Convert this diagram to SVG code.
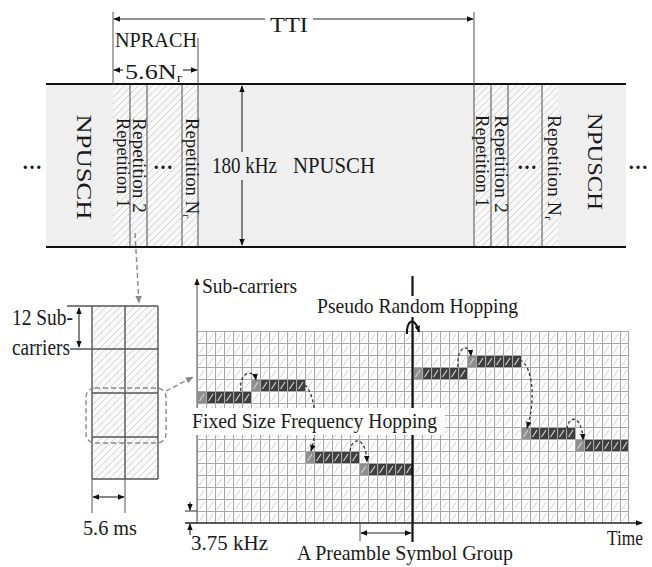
<svg xmlns="http://www.w3.org/2000/svg" width="652" height="567" viewBox="0 0 652 567">
<defs>
<style>
text{font-family:"Liberation Serif","Times New Roman",serif;fill:#1a1a1a}
.bar{stroke:#111;stroke-width:2.2}
.div{stroke:#6a6a6a;stroke-width:1.2}
.ext{stroke:#555;stroke-width:1;fill:none}
.dim{stroke:#222;stroke-width:1.1;fill:none}
.dash{stroke:#333;stroke-width:1.3;stroke-dasharray:3 2.5;fill:none}
.gdash{stroke:#8a8a8a;stroke-width:1.4;stroke-dasharray:5 3;fill:none}
.blk{stroke:#555;stroke-width:1.4}
.rep{font-size:18px}
.dots{font-size:20px;font-weight:bold}
</style>
<pattern id="hatch" patternUnits="userSpaceOnUse" width="7" height="7">
<path d="M-1,8 L8,-1 M-1,1 L1,-1 M6,8 L8,6" stroke="#d2d2d2" stroke-width="1"/>
</pattern>
<pattern id="cell" patternUnits="userSpaceOnUse" x="197" y="331" width="9" height="12">
<path d="M0,0.5 H9 M0.5,0 V12" stroke="#a8a8a8" stroke-width="1.2"/>
<path d="M2.5,10 L7,3" stroke="#d6d6d6" stroke-width="1.1"/>
</pattern>
<marker id="ah" viewBox="0 0 10 10" refX="9" refY="5" markerUnits="userSpaceOnUse" markerWidth="7" markerHeight="7" orient="auto-start-reverse">
<path d="M0,1 L10,5 L0,9 z" fill="#111"/>
</marker>
<marker id="ahg" viewBox="0 0 10 10" refX="9" refY="5" markerUnits="userSpaceOnUse" markerWidth="8" markerHeight="8" orient="auto">
<path d="M0,1 L10,5 L0,9 z" fill="#888"/>
</marker>
</defs>
<rect width="652" height="567" fill="#fff"/>

<g id="top-band">
<rect x="46" y="84" width="580" height="163" fill="#efefef"/>
<rect x="113" y="84" width="85" height="163" fill="#f8f8f8"/>
<rect x="113" y="84" width="85" height="163" fill="url(#hatch)"/>
<rect x="474" y="84" width="84" height="163" fill="#f8f8f8"/>
<rect x="474" y="84" width="84" height="163" fill="url(#hatch)"/>
<path class="div" d="M130,84 V247 M147,84 V247 M182,84 V247 M198,84 V247 M474,84 V247 M491,84 V247 M508,84 V247 M542,84 V247"/>
<path class="bar" d="M46,84 H626 M46,247 H626"/>
</g>

<g id="npusch-left">
<text class="dots" x="22" y="169">…</text>
<text transform="translate(77,167) rotate(90)" text-anchor="middle" font-size="22" textLength="105" lengthAdjust="spacingAndGlyphs">NPUSCH</text>
</g>

<g id="nprach-left">
<text class="rep" transform="translate(116.5,163) rotate(90)" text-anchor="middle" textLength="90" lengthAdjust="spacingAndGlyphs">Repetition 1</text>
<text class="rep" transform="translate(132.5,165.5) rotate(90)" text-anchor="middle" textLength="95" lengthAdjust="spacingAndGlyphs">Repetition 2</text>
<text class="dots" x="153" y="169">…</text>
<text class="rep" transform="translate(185.5,168) rotate(90)" text-anchor="middle" textLength="100" lengthAdjust="spacingAndGlyphs">Repetition N<tspan font-size="11" dy="3">r</tspan></text>
</g>

<g id="npusch-mid">
<text x="212" y="173" font-size="23" textLength="65" lengthAdjust="spacingAndGlyphs">180 kHz</text>
<text x="293" y="173" font-size="23" textLength="82" lengthAdjust="spacingAndGlyphs">NPUSCH</text>
</g>

<g id="nprach-right">
<text class="rep" transform="translate(475.5,161) rotate(90)" text-anchor="middle" textLength="92" lengthAdjust="spacingAndGlyphs">Repetition 1</text>
<text class="rep" transform="translate(494.5,164) rotate(90)" text-anchor="middle" textLength="98" lengthAdjust="spacingAndGlyphs">Repetition 2</text>
<text class="dots" x="517" y="169">…</text>
<text class="rep" transform="translate(547.5,167.5) rotate(90)" text-anchor="middle" textLength="105" lengthAdjust="spacingAndGlyphs">Repetition N<tspan font-size="11" dy="3">r</tspan></text>
</g>

<g id="npusch-right">
<text transform="translate(588,161.5) rotate(90)" text-anchor="middle" font-size="22" textLength="97" lengthAdjust="spacingAndGlyphs">NPUSCH</text>
<text class="dots" x="628" y="169" font-size="18">…</text>
</g>

<g id="tti-labels">
<text x="270" y="32" font-size="21" textLength="38" lengthAdjust="spacingAndGlyphs">TTI</text>
<text x="115" y="47" font-size="21" textLength="82" lengthAdjust="spacingAndGlyphs">NPRACH</text>
<text x="125" y="79" font-size="20" textLength="57" lengthAdjust="spacingAndGlyphs">5.6N<tspan font-size="12" dy="3">r</tspan></text>
</g>

<g id="subframe-block">
<rect x="92" y="306" width="66" height="173" fill="#fafafa"/>
<rect x="92" y="306" width="66" height="173" fill="url(#hatch)"/>
<path class="blk" d="M92,306 V479 M125,306 V479 M158,306 V479 M67,306 H158 M70,349 H158 M92,393 H158 M92,437 H158 M92,479 H158"/>
<rect x="86" y="388" width="80" height="55" rx="9" class="gdash"/>
<text x="12" y="325" font-size="23" textLength="61" lengthAdjust="spacingAndGlyphs">12 Sub-</text>
<text x="12" y="355" font-size="23" textLength="58" lengthAdjust="spacingAndGlyphs">carriers</text>
<text x="83" y="535" font-size="21" textLength="54" lengthAdjust="spacingAndGlyphs">5.6 ms</text>
</g>

<g id="grid">
<rect x="197" y="331" width="432" height="192" fill="#fff"/>
<g id="hops">
<rect x="197" y="391" width="9" height="12" fill="#8e8e8e"/><rect x="206" y="391" width="45" height="12" fill="#3e3e3e"/>
<rect x="251" y="379" width="9" height="12" fill="#8e8e8e"/><rect x="260" y="379" width="45" height="12" fill="#3e3e3e"/>
<rect x="305" y="451" width="9" height="12" fill="#8e8e8e"/><rect x="314" y="451" width="45" height="12" fill="#3e3e3e"/>
<rect x="359" y="463" width="9" height="12" fill="#8e8e8e"/><rect x="368" y="463" width="45" height="12" fill="#3e3e3e"/>
<rect x="413" y="367" width="9" height="12" fill="#8e8e8e"/><rect x="422" y="367" width="45" height="12" fill="#3e3e3e"/>
<rect x="467" y="355" width="9" height="12" fill="#8e8e8e"/><rect x="476" y="355" width="45" height="12" fill="#3e3e3e"/>
<rect x="521" y="427" width="9" height="12" fill="#8e8e8e"/><rect x="530" y="427" width="45" height="12" fill="#3e3e3e"/>
<rect x="575" y="439" width="9" height="12" fill="#8e8e8e"/><rect x="584" y="439" width="45" height="12" fill="#3e3e3e"/>
</g>
<rect x="197" y="331" width="432" height="192" fill="url(#cell)"/>
<path d="M628.5,331 V523" stroke="#a8a8a8" stroke-width="1.2"/>
</g>

<g id="connectors">
<path class="ext" d="M113,12 V84 M474,12 V84 M198,38 V84"/>
<path class="dim" d="M265,19 H114" marker-end="url(#ah)"/>
<path class="dim" d="M313,19 H473" marker-end="url(#ah)"/>
<path class="dim" d="M123,70 H114" marker-end="url(#ah)"/>
<path class="dim" d="M183,70 H197" marker-end="url(#ah)"/>
<path class="dim" d="M242,152 V86" marker-end="url(#ah)"/>
<path class="dim" d="M242,180 V245" marker-end="url(#ah)"/>
<path class="gdash" d="M135,233 L139,303" marker-end="url(#ahg)"/>
<path class="gdash" d="M166,391 L193,377" marker-end="url(#ahg)"/>
<path class="dim" d="M79,308 V347" marker-start="url(#ah)" marker-end="url(#ah)"/>
<path class="ext" d="M92,479 V513 M125,479 V513"/>
<path class="dim" d="M93,497 H124" marker-start="url(#ah)" marker-end="url(#ah)"/>
<path d="M197,523 V279" stroke="#888" stroke-width="1.5" marker-end="url(#ah)"/>
<path class="dash" d="M241,391 C238,372 254,368 256,380" marker-end="url(#ah)"/>
<path class="dash" d="M305,385 C316,395 318,430 311,451" marker-end="url(#ah)"/>
<path class="dash" d="M350,451 C352,436 366,436 367,462" marker-end="url(#ah)"/>
<path class="dash" d="M458,367 C456,345 470,343 471,356" marker-end="url(#ah)"/>
<path class="dash" d="M520,360 C533,366 536,400 527,428" marker-end="url(#ah)"/>
<path class="dash" d="M567,429 C568,415 582,414 583,440" marker-end="url(#ah)"/>
<path d="M412.5,276 V542" stroke="#111" stroke-width="2.2"/>
<path d="M407,334 C406,322 414,314 419,332" stroke="#111" stroke-width="2" fill="none" marker-end="url(#ah)"/>
<path d="M185,523 H642" stroke="#222" stroke-width="1.3" marker-end="url(#ah)"/>
<path d="M185,511 H197" stroke="#222" stroke-width="1"/>
<path class="dim" d="M190,502 V510" marker-end="url(#ah)"/>
<path class="dim" d="M190,535 V524" marker-end="url(#ah)"/>
<path class="ext" d="M360,523 V541"/>
<path class="dim" d="M361,533 H411" marker-start="url(#ah)" marker-end="url(#ah)"/>
</g>

<g id="grid-labels">
<rect x="315" y="296" width="206" height="21" fill="#fff"/>
<text x="317" y="313" font-size="21" textLength="201" lengthAdjust="spacingAndGlyphs">Pseudo Random Hopping</text>
<rect x="190" y="408" width="255" height="27" fill="#fff"/>
<text x="192" y="428" font-size="21" textLength="245" lengthAdjust="spacingAndGlyphs">Fixed Size Frequency Hopping</text>
<text x="202" y="293" font-size="20" textLength="95" lengthAdjust="spacingAndGlyphs">Sub-carriers</text>
<text x="191" y="550" font-size="21" textLength="77" lengthAdjust="spacingAndGlyphs">3.75 kHz</text>
<text x="297" y="560" font-size="21" textLength="216" lengthAdjust="spacingAndGlyphs">A Preamble Symbol Group</text>
<text x="607" y="545" font-size="21" textLength="36" lengthAdjust="spacingAndGlyphs">Time</text>
</g>
</svg>
